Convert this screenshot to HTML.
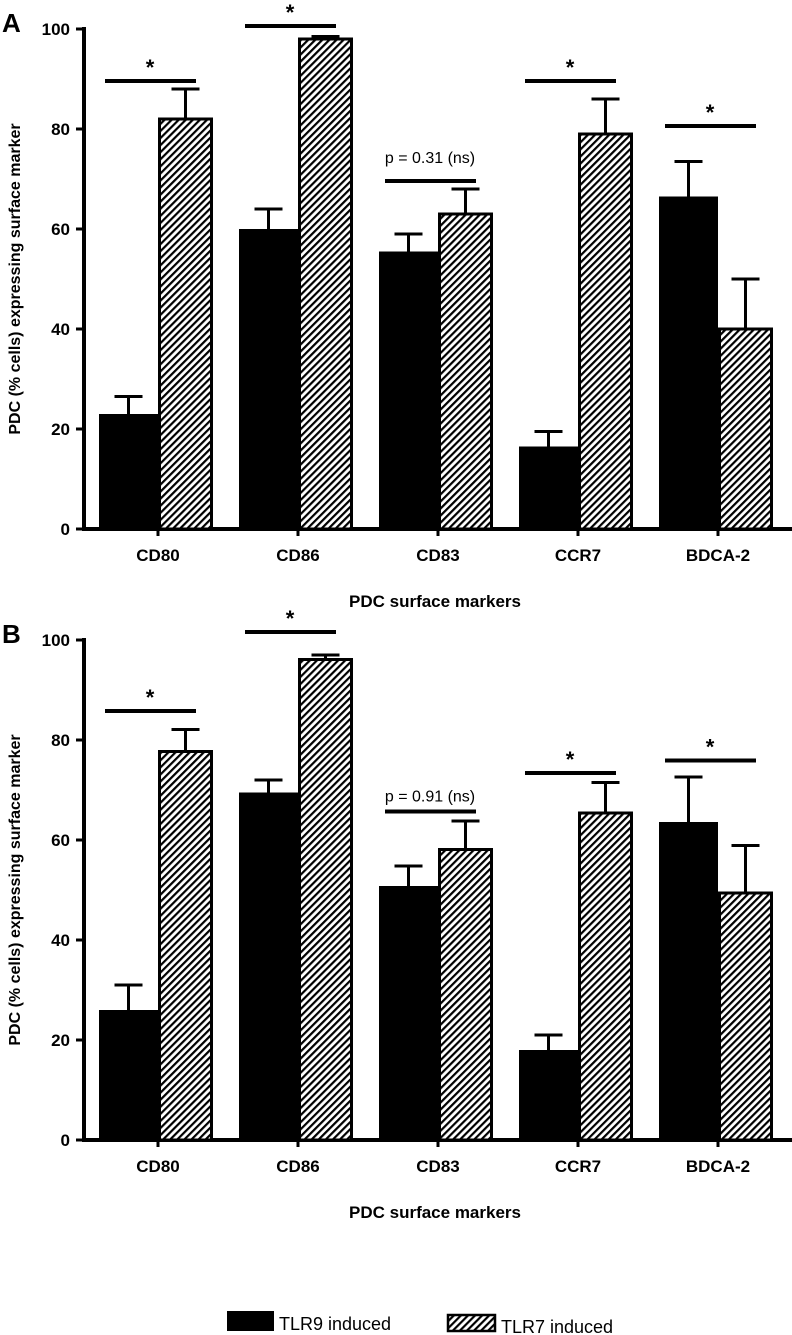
<!DOCTYPE html>
<html><head><meta charset="utf-8"><style>
body{margin:0;background:#fff;}
svg{display:block;font-family:"Liberation Sans",Arial,sans-serif;}
</style></head><body>
<svg id="chart" width="792" height="1335" viewBox="0 0 792 1335" xmlns="http://www.w3.org/2000/svg">
<defs>
<pattern id="hatch" patternUnits="userSpaceOnUse" width="5" height="5" patternTransform="rotate(45)">
<rect width="5" height="5" fill="#fff"/>
<rect x="0" y="0" width="2.2" height="5" fill="#000"/>
</pattern>
</defs>
</svg>
<script>
const categories = ["CD80","CD86","CD83","CCR7","BDCA-2"];
const tlr9A = [23, 60, 55.5, 16.5, 66.5];
const tlr9ErrA = [3.5, 4, 3.5, 3, 7];
const tlr7A = [82, 98, 63, 79, 40];
const tlr7ErrA = [6, 0.5, 5, 7, 10];
const sigA = ["*","*","p = 0.31 (ns)","*","*"];
const sigLevelA = [89.6, 100.6, 69.6, 89.6, 80.6];
const tlr9B = [26, 69.5, 50.8, 18, 63.6];
const tlr9ErrB = [5, 2.5, 4, 3, 9];
const tlr7B = [77.7, 96.1, 58.1, 65.4, 49.4];
const tlr7ErrB = [4.4, 0.9, 5.7, 6.1, 9.5];
const sigB = ["*","*","p = 0.91 (ns)","*","*"];
const sigLevelB = [85.8, 101.6, 65.7, 73.4, 75.9];
const yTicks = [0,20,40,60,80,100];

const NS = "http://www.w3.org/2000/svg";
const svg = document.getElementById("chart");
function mk(tag, attrs, parent){const e=document.createElementNS(NS,tag);for(const k in attrs)e.setAttribute(k,attrs[k]);(parent||svg).appendChild(e);return e;}

function panel(letter, top, black, blackErr, hatched, hatchedErr, sig, sigLevel, nsOffset){
  const g = mk("g",{});
  
  
  const y0 = top + 500, scale = 5.0;
  const yS = v => y0 - v*scale;
  const xC = i => 158 + i*140;
  const bwB = 59, bwH = 55;
  const ya = mk("line",{x1:84,y1:yS(100)-2,x2:84,y2:y0+2,stroke:"#000","stroke-width":4},g);
  
  
  const xa = mk("line",{x1:82,y1:y0,x2:792,y2:y0,stroke:"#000","stroke-width":4},g);
  
  
  yTicks.forEach(t=>{
    mk("line",{x1:76,y1:yS(t),x2:84,y2:yS(t),stroke:"#000","stroke-width":3},g);
    const tl = mk("text",{x:70,y:yS(t)+6,"text-anchor":"end","font-size":17,"font-weight":"bold"},g);
    tl.textContent = t;
    
    
  });
  categories.forEach((c,i)=>{
    const xc = xC(i);
    mk("line",{x1:xc,y1:y0,x2:xc,y2:y0+7,stroke:"#000","stroke-width":3},g);
    const bx = xc - bwB/2;
    mk("line",{x1:bx,y1:yS(black[i]+blackErr[i]),x2:bx,y2:yS(black[i]),stroke:"#000","stroke-width":3},g);
    mk("line",{x1:bx-14,y1:yS(black[i]+blackErr[i]),x2:bx+14,y2:yS(black[i]+blackErr[i]),stroke:"#000","stroke-width":3},g);
    const b = mk("rect",{x:xc-bwB,y:yS(black[i]),width:bwB,height:y0-yS(black[i]),fill:"#000"},g);
    
    
    const hx = xc + bwH/2;
    mk("line",{x1:hx,y1:yS(hatched[i]+hatchedErr[i]),x2:hx,y2:yS(hatched[i]),stroke:"#000","stroke-width":3},g);
    mk("line",{x1:hx-14,y1:yS(hatched[i]+hatchedErr[i]),x2:hx+14,y2:yS(hatched[i]+hatchedErr[i]),stroke:"#000","stroke-width":3},g);
    const h = mk("rect",{x:xc+1.5,y:yS(hatched[i]),width:bwH-3,height:y0-yS(hatched[i]),fill:"url(#hatch)",stroke:"#000","stroke-width":3},g);
    
    
    const cl = mk("text",{x:xc,y:y0+32,"text-anchor":"middle","font-size":17,"font-weight":"bold"},g);
    cl.textContent = c;
    
    
    const ly = yS(sigLevel[i]);
    const sl = mk("line",{x1:xc-53,y1:ly,x2:xc+38,y2:ly,stroke:"#000","stroke-width":4},g);
    
    
    const st = mk("text",{x:xc-8,"text-anchor":"middle"},g);
    if(sig[i]==="*"){st.setAttribute("y",ly-6);st.setAttribute("font-size",22);st.setAttribute("font-weight","bold");}
    else{st.setAttribute("y",ly-nsOffset);st.setAttribute("font-size",16);}
    st.textContent = sig[i];
    
    
  });
  const L = mk("text",{x:2,y:top+3,"font-size":26,"font-weight":"bold"},g);
  L.textContent = letter;
  
  
  const yt = mk("text",{x:0,y:0,"text-anchor":"middle","font-size":16,"font-weight":"bold",transform:`translate(20,${top+250}) rotate(-90)`},g);
  yt.textContent = "PDC (% cells) expressing surface marker";
  
  
  const xt = mk("text",{x:435,y:y0+78,"text-anchor":"middle","font-size":17,"font-weight":"bold"},g);
  xt.textContent = "PDC surface markers";
  
  
}
panel("A", 29, tlr9A, tlr9ErrA, tlr7A, tlr7ErrA, sigA, sigLevelA, 18);
panel("B", 640, tlr9B, tlr9ErrB, tlr7B, tlr7ErrB, sigB, sigLevelB, 10);

const lg = mk("g",{});


const r1 = mk("rect",{x:227,y:1311,width:47,height:20,fill:"#000"},lg);


const t1 = mk("text",{x:279,y:1330,"font-size":18},lg);
t1.textContent = "TLR9 induced";


const r2 = mk("rect",{x:448,y:1315,width:47,height:16,fill:"url(#hatch)",stroke:"#000","stroke-width":2.5},lg);


const t2 = mk("text",{x:501,y:1333,"font-size":18},lg);
t2.textContent = "TLR7 induced";


</script>
</body></html>
